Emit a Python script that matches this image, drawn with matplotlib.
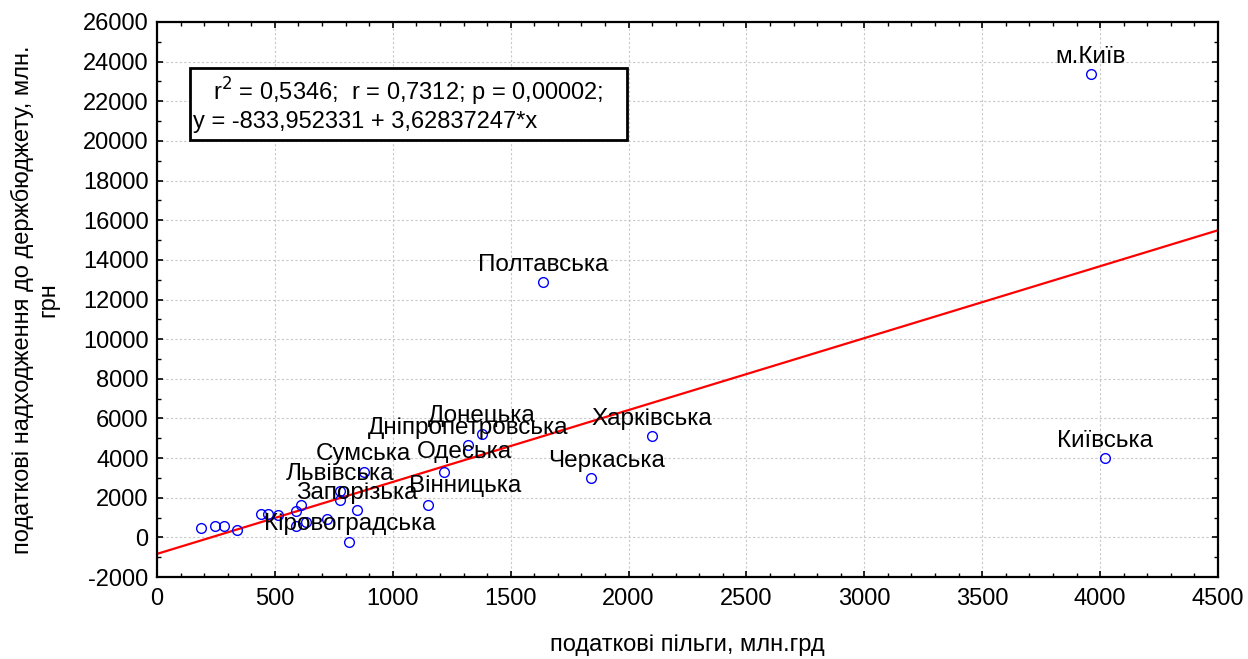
import matplotlib
matplotlib.use("Agg")
import matplotlib.pyplot as plt
from matplotlib.ticker import MultipleLocator
from matplotlib.patches import Rectangle
import numpy as np

plt.rcParams['font.family'] = ['Liberation Sans', 'DejaVu Sans']
plt.rcParams['axes.unicode_minus'] = False

# Data
pilhy = [188, 247, 283, 340, 442, 471, 513, 588, 612, 588, 631, 721, 775, 775,
         850, 816, 877, 1149, 1216, 1318, 1378, 1637, 1841, 2099, 3961, 4021]
nadkhodzhennia = [487, 573, 573, 387, 1194, 1194, 1113, 1330, 1618, 573, 775, 911,
                  2339, 1885, 1380, -219, 3313, 1618, 3313, 4645, 5230, 12883,
                  2995, 5114, 23377, 4004]
regions = ['', '', '', '', '', '', '', '', '', '', '', '',
           'Львівська', '', 'Запорізька', 'Кіровоградська', 'Сумська',
           'Вінницька', 'Одеська', 'Дніпропетровська', 'Донецька', 'Полтавська',
           'Черкаська', 'Харківська', 'м.Київ', 'Київська']
# label offsets in points (dx, dy)
label_offsets = {
    'Одеська': (15, 14), 'Вінницька': (27, 14), 'Черкаська': (11, 12.5),
}
intercept = -833.952331
slope = 3.62837247

fig = plt.figure(figsize=(12.48, 6.59), dpi=100)
ax = fig.add_axes([157/1248, 1-577/659, (1218-157)/1248, (577-22)/659])

ax.set_xlim(0, 4500)
ax.set_ylim(-2000, 26000)
ax.xaxis.set_major_locator(MultipleLocator(500))
ax.xaxis.set_minor_locator(MultipleLocator(100))
ax.yaxis.set_major_locator(MultipleLocator(2000))
ax.yaxis.set_minor_locator(MultipleLocator(1000))
ax.grid(True, which='major', linestyle=(0, (2, 2)), color='#c8c8c8', linewidth=0.8)
ax.tick_params(which='both', direction='in', top=True, right=True, labelsize=17, color='black')
ax.tick_params(which='major', length=4, width=1.2)
ax.tick_params(which='minor', length=3, width=1.0)
ax.tick_params(axis='x', pad=8)
ax.tick_params(axis='y', pad=6)
for s in ax.spines.values():
    s.set_linewidth(1.6)

xs = np.array([0, 4500])
ax.plot(xs, intercept + slope * xs, color='#ff0000', linewidth=1.6, zorder=2)
ax.plot(pilhy, nadkhodzhennia, linestyle='none', marker='o', markersize=7,
        markerfacecolor='none', markeredgecolor='#0000ff', markeredgewidth=1.0, zorder=3)

for x, y, name in zip(pilhy, nadkhodzhennia, regions):
    if not name:
        continue
    dx, dy = label_offsets.get(name, (0, 12.5))
    ax.annotate(name, (x, y), xytext=(dx, dy), textcoords='offset points',
                ha='center', va='center', fontsize=17.5, zorder=4)

ax.add_patch(Rectangle((0.031, 0.787), 0.412, 0.13, transform=ax.transAxes,
                       facecolor='white', edgecolor='black', linewidth=2, zorder=5))
ax.text(0.0528, 0.874, "r$^2$ = 0,5346;  r = 0,7312; p = 0,00002;",
        transform=ax.transAxes, fontsize=17, ha='left', va='center', zorder=6)
ax.text(0.034, 0.82, "y = -833,952331 + 3,62837247*x",
        transform=ax.transAxes, fontsize=17, ha='left', va='center', zorder=6)

ax.set_xlabel('податкові пільги, млн.грд', fontsize=17, labelpad=17)
ax.set_ylabel('податкові надходження до держбюджету, млн.\nгрн', fontsize=17, labelpad=17)

fig.savefig('out.png', dpi=100)
